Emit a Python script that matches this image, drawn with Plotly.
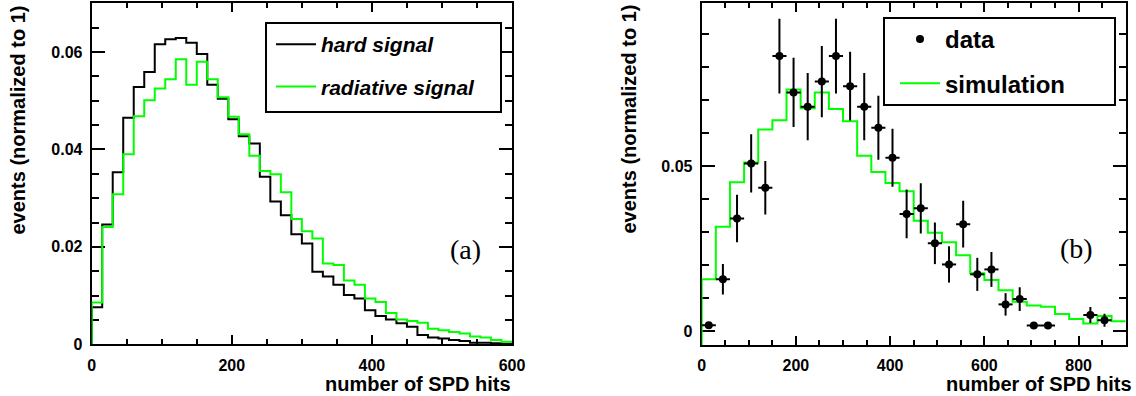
import numpy as np
import plotly.graph_objects as go

# ---------------------------------------------------------------- data
# (a) SPD hit multiplicity, 15-hit bins from 0 to 600, normalised to 1
bin_width_a = 15
hard_signal = [0.0076, 0.0246, 0.0353, 0.0465, 0.0528, 0.0559, 0.0616, 0.0626,
               0.0629, 0.0619, 0.0596, 0.0533, 0.0504, 0.0462, 0.0427, 0.0412,
               0.0344, 0.0293, 0.0265, 0.0226, 0.0207, 0.0149, 0.0139, 0.0122,
               0.0101, 0.0094, 0.0070, 0.0058, 0.0051, 0.0043, 0.0036, 0.0019,
               0.0014, 0.0012, 0.0009, 0.0007, 0.0003, 0.0003, 0.0002, 0.0001]
radiative_signal = [0.0086, 0.0241, 0.0308, 0.0390, 0.0468, 0.0501, 0.0525, 0.0544,
                    0.0585, 0.0533, 0.0580, 0.0544, 0.0507, 0.0467, 0.0431, 0.0387,
                    0.0356, 0.0349, 0.0312, 0.0257, 0.0232, 0.0217, 0.0166, 0.0163,
                    0.0131, 0.0122, 0.0094, 0.0087, 0.0064, 0.0051, 0.0048, 0.0044,
                    0.0032, 0.0029, 0.0025, 0.0022, 0.0016, 0.0014, 0.0009, 0.0005]

# (b) data vs simulation, 30-hit bins from 0 to 900 (None = empty bin)
bin_width_b = 30
data_values = [0.0018, 0.0157, 0.0341, 0.0508, 0.0434, 0.0833, 0.0723, 0.0680,
               0.0756, 0.0833, 0.0742, 0.0680, 0.0616, 0.0525, 0.0355, 0.0372,
               0.0266, 0.0202, 0.0324, 0.0172, 0.0187, 0.0081, 0.0097, 0.0017,
               0.0017, None, None, 0.0049, 0.0033, None]
data_errors = [0.0010, 0.0046, 0.0072, 0.0088, 0.0081, 0.0113, 0.0105, 0.0102,
               0.0108, 0.0113, 0.0104, 0.0102, 0.0097, 0.0088, 0.0074, 0.0076,
               0.0063, 0.0055, 0.0071, 0.0050, 0.0053, 0.0034, 0.0036, 0.0010,
               0.0010, None, None, 0.0024, 0.0020, None]
simulation = [0.0157, 0.0316, 0.0451, 0.0511, 0.0611, 0.0639, 0.0732, 0.0675,
              0.0723, 0.0673, 0.0636, 0.0531, 0.0482, 0.0449, 0.0424, 0.0334,
              0.0298, 0.0269, 0.0230, 0.0175, 0.0155, 0.0124, 0.0089, 0.0078,
              0.0074, 0.0052, 0.0037, 0.0023, 0.0046, 0.0030]

x_title = "number of SPD hits"
y_title = "events (normalized to 1)"

# ---------------------------------------------------------------- helpers
W, H = 1136, 396
YRANGE_A = [0, 0.07]
YRANGE_B = [-0.0042, 0.0993]
GREEN = "#00ff00"
SANS = "Liberation Sans"


def px(x):
    return x / W


def py(y):
    return (H - y) / H


def step(values, width, base):
    """Outline of a histogram: rises from `base` at the first edge."""
    edges = np.arange(len(values) + 1) * width
    xs = [edges[0]] + list(edges[:-1]) + [edges[-1]]
    ys = [base] + list(values) + [values[-1]]
    return xs, ys


fig = go.Figure()

# ---------------------------------------------------------------- panel (a)
for name, vals, col, grp in [("hard signal", hard_signal, "black", "h"),
                             ("radiative signal", radiative_signal, GREEN, "r")]:
    xs, ys = step(vals, bin_width_a, YRANGE_A[0])
    fig.add_trace(go.Scatter(x=xs, y=ys, mode="lines", line_shape="hv",
                             line=dict(color=col, width=2), name=name,
                             legendgroup=grp, legend="legend",
                             xaxis="x", yaxis="y"))

# ---------------------------------------------------------------- panel (b)
xs, ys = step(simulation, bin_width_b, YRANGE_B[0])
fig.add_trace(go.Scatter(x=xs, y=ys, mode="lines", line_shape="hv",
                         line=dict(color=GREEN, width=2), name="simulation",
                         legendgroup="s", legendrank=2, legend="legend2",
                         xaxis="x2", yaxis="y2"))

centers_b = (np.arange(len(data_values)) + 0.5) * bin_width_b
fig.add_trace(go.Scatter(x=centers_b, y=data_values, mode="markers",
                         marker=dict(color="black", size=8),
                         error_y=dict(type="data", array=data_errors, color="black",
                                      thickness=2, width=0),
                         error_x=dict(type="constant", value=bin_width_b / 2,
                                      color="black", thickness=2, width=0),
                         name="data", legendgroup="d", legendrank=1,
                         legend="legend2", xaxis="x2", yaxis="y2"))

# ---------------------------------------------------------------- axes
tickfont = dict(family=SANS, size=16, color="black", weight="bold")


def xaxis(domain, rng, anchor):
    return dict(domain=domain, range=rng, anchor=anchor, showgrid=False,
                zeroline=False, showline=True, linecolor="black", linewidth=2,
                mirror="ticks", ticks="inside", ticklen=9, tickwidth=2,
                tickcolor="black", dtick=200, tick0=0, tickfont=tickfont,
                ticklabelstandoff=5, layer="below traces", automargin=False,
                minor=dict(ticks="inside", ticklen=5, tickwidth=2,
                           tickcolor="black", dtick=50))


def yaxis(domain, rng, anchor, major, minor):
    return dict(domain=domain, range=rng, anchor=anchor, showgrid=False,
                zeroline=False, showline=True, linecolor="black", linewidth=2,
                mirror="ticks", ticks="inside", ticklen=13, tickwidth=2,
                tickcolor="black", dtick=major, tick0=0, tickfont=tickfont,
                ticklabelstandoff=4, layer="below traces", automargin=False,
                minor=dict(ticks="inside", ticklen=7, tickwidth=2,
                           tickcolor="black", dtick=minor))


legend_a = dict(xref="paper", yref="paper", x=px(271), y=py(24),
                xanchor="left", yanchor="top", bgcolor="rgba(0,0,0,0)",
                borderwidth=0, itemwidth=40, tracegroupgap=12,
                traceorder="grouped",
                font=dict(family=SANS, size=21, color="black",
                          weight="bold", style="italic"))
legend_b = dict(xref="paper", yref="paper", x=px(895), y=py(17),
                xanchor="left", yanchor="top", bgcolor="rgba(0,0,0,0)",
                borderwidth=0, itemwidth=40, tracegroupgap=10,
                traceorder="grouped",
                font=dict(family=SANS, size=24, color="black", weight="bold"))

title_font = dict(family=SANS, size=20, color="black", weight="bold")
annotations = [
    dict(text=y_title, textangle=-90, x=px(18), y=py(4), xanchor="center",
         yanchor="top", font=title_font),
    dict(text=y_title, textangle=-90, x=px(628), y=py(3), xanchor="center",
         yanchor="top", font=title_font),
    dict(text=x_title, x=px(513), y=py(384), xanchor="right",
         yanchor="middle", font=title_font),
    dict(text=x_title, x=px(1134), y=py(384), xanchor="right",
         yanchor="middle", font=title_font),
    dict(text="(a)", x=px(465), y=py(249), xanchor="center", yanchor="middle",
         font=dict(family="Liberation Serif", size=28, color="black")),
    dict(text="(b)", x=px(1076), y=py(248), xanchor="center", yanchor="middle",
         font=dict(family="Liberation Serif", size=28, color="black")),
]
for a in annotations:
    a.update(xref="paper", yref="paper", showarrow=False)

shapes = [
    dict(type="rect", xref="paper", yref="paper", x0=px(266), x1=px(501),
         y0=py(112), y1=py(23), line=dict(color="black", width=2),
         fillcolor="white", layer="above"),
    dict(type="rect", xref="paper", yref="paper", x0=px(884), x1=px(1115),
         y0=py(105), y1=py(18), line=dict(color="black", width=2),
         fillcolor="white", layer="above"),
]

fig.update_layout(
    width=W, height=H,
    margin=dict(l=0, r=0, t=0, b=0, pad=0, autoexpand=False),
    paper_bgcolor="white", plot_bgcolor="white",
    xaxis=xaxis([px(91.7), px(512)], [0, 600], "y"),
    yaxis=yaxis([py(344.3), py(3.3)], YRANGE_A, "x", 0.02, 0.005),
    xaxis2=xaxis([px(701.7), px(1125.7)], [0, 900], "y2"),
    yaxis2=yaxis([py(345), py(3.3)], YRANGE_B, "x2", 0.05, 0.01),
    legend=legend_a, legend2=legend_b,
    annotations=annotations, shapes=shapes,
)

fig.write_html("out.html")
